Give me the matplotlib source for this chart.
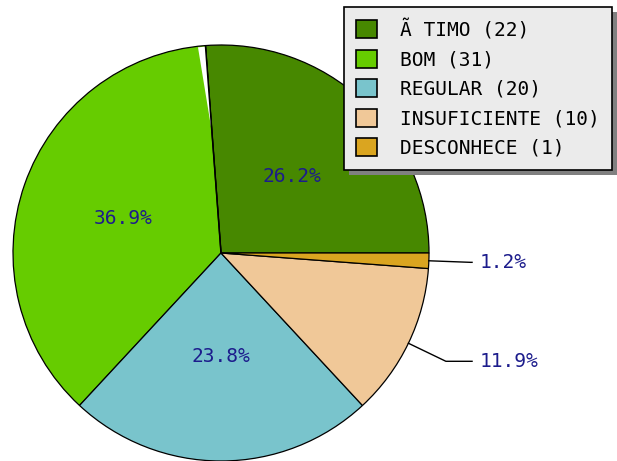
import matplotlib

matplotlib.use("Agg")
import matplotlib.pyplot as plt
import numpy as np

# Data
labels = ["Ã TIMO", "BOM", "REGULAR", "INSUFICIENTE", "DESCONHECE"]
counts = [22, 31, 20, 10, 1]
colors = ["#478800", "#66cc00", "#79c4cc", "#f0c898", "#daa520"]
outside = [False, False, False, True, True]

W, H = 617, 461
fig = plt.figure(figsize=(W / 100, H / 100), dpi=100)
fig.patch.set_facecolor("white")

# pie: center (221, 253) px, radius 208 px
R = 208
ax = fig.add_axes([(221 - R) / W, (H - 253 - R) / H, 2 * R / W, 2 * R / H])

total = sum(counts)
pct = [100 * c / total for c in counts]

wedges, _ = ax.pie(
    counts,
    colors=colors,
    startangle=0,
    counterclock=True,
    radius=1,
    wedgeprops=dict(edgecolor="black", linewidth=0.9),
)
ax.set_xlim(-1, 1)
ax.set_ylim(-1, 1)
ax.set_aspect("equal")
ax.axis("off")
for w in wedges:
    w.set_clip_on(False)

# thin white rendering gap along the first/second slice boundary
a0 = np.deg2rad(wedges[0].theta2)
a1 = a0 + np.deg2rad(2.1)
gap = plt.Polygon(
    [(0.58 * np.cos(a0), 0.58 * np.sin(a0)),
     (0.995 * np.cos(a0), 0.995 * np.sin(a0)),
     (0.995 * np.cos(a1), 0.995 * np.sin(a1))],
    closed=True, facecolor="white", edgecolor="none", zorder=3,
)
ax.add_patch(gap)
ax.plot([0, np.cos(a0)], [0, np.sin(a0)], color="black", lw=1.1, zorder=4)

font = "DejaVu Sans Mono"
txt_color = "#1c1c8c"
fs = 14
for w, p, out in zip(wedges, pct, outside):
    mid = np.deg2rad((w.theta1 + w.theta2) / 2)
    cx, cy = np.cos(mid), np.sin(mid)
    s = f"{p:.1f}%"
    if not out:
        ax.text(0.5 * cx, 0.5 * cy, s, ha="center", va="center",
                fontsize=fs, family=font, color=txt_color)
    else:
        ex, ey = 1.2 * cx, 1.2 * cy
        ax.plot([cx, ex, 1.207], [cy, ey, ey], color="black", lw=1.0,
                clip_on=False)
        ax.text(1.245, ey, s, ha="left", va="center", fontsize=fs,
                family=font, color=txt_color, clip_on=False)

handles = [
    plt.Rectangle((0, 0), 1, 1, facecolor=c, edgecolor="black", linewidth=1.2)
    for c in colors
]
leg_labels = [f"{l} ({c})" for l, c in zip(labels, counts)]
leg = fig.legend(
    handles,
    leg_labels,
    loc="upper right",
    bbox_to_anchor=(612 / W, 1 - 7 / H),
    bbox_transform=fig.transFigure,
    frameon=True,
    fancybox=False,
    shadow=False,
    framealpha=1,
    facecolor="#ebebeb",
    edgecolor="black",
    prop=dict(family=font, size=fs),
    handlelength=1.05,
    handleheight=1.05,
    handletextpad=1.2,
    labelspacing=0.5,
    borderpad=0.62,
    borderaxespad=0,
)
leg.get_frame().set_linewidth(1.2)

# shadow behind legend
fig.canvas.draw()
bb = leg.get_window_extent().transformed(fig.transFigure.inverted())
shadow = plt.Rectangle((bb.x0 + 5 / W, bb.y0 - 5 / H), bb.width, bb.height,
                       transform=fig.transFigure, facecolor="#808080",
                       edgecolor="none", zorder=leg.get_zorder() - 0.5)
fig.patches.append(shadow)

fig.savefig("out.png", dpi=100)
